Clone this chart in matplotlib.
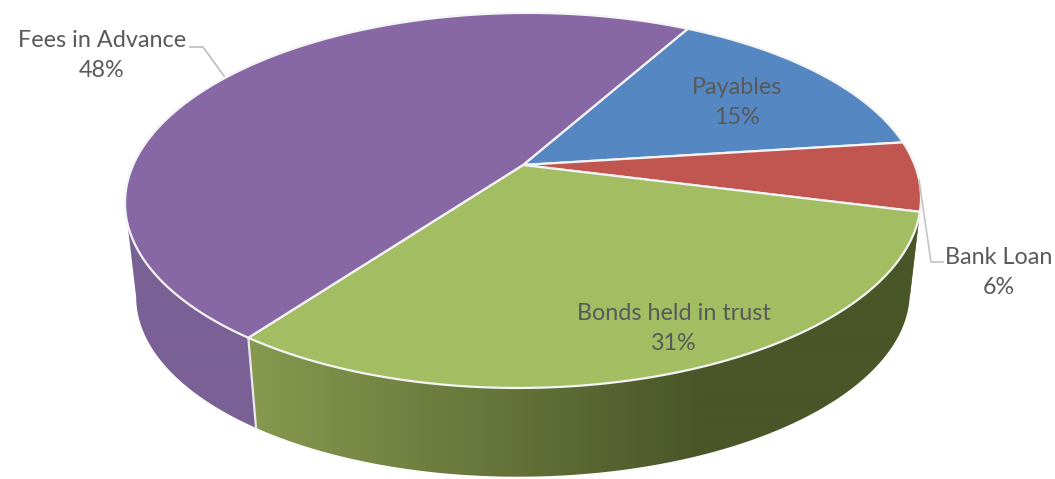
import numpy as np
import matplotlib
matplotlib.use("Agg")
import matplotlib.pyplot as plt
from matplotlib.patches import Polygon

categories = ["Payables", "Bank Loan", "Bonds held in trust", "Fees in Advance"]
shares = [15, 6, 31, 48]
face_colors = ["#5587c2", "#c0564f", "#a2bd62", "#8768a5"]
side_left = ["#3f6594", "#8c3d3a", "#87994f", "#7a6195"]
side_right = ["#3f6594", "#7c3532", "#4a5628", "#6f5888"]
start_deg = 29.4

# Perspective view of the disc
CX, CY = 523.0, 165.0
HALF_W, HALF_H, PERSP = 390.8, 180.8, 0.189
DROP, SHRINK, SKEW = 95.0, 0.972, 0.006
WIDTH, HEIGHT = 1055, 479
# Range of angles where the outer wall faces the viewer
WALL_FROM, WALL_TO = 101.0, 259.0


def project(theta_deg, lower=False):
    t = np.radians(theta_deg)
    px, py = np.sin(t), -np.cos(t)
    w = 1 - PERSP * py
    x, y = HALF_W * px / w, HALF_H * py / w
    y -= SKEW * x
    if lower:
        return CX + SHRINK * x, CY + DROP + SHRINK * y
    return CX + x, CY + y


plt.rcParams["font.family"] = ["Lato", "DejaVu Sans"]
fig = plt.figure(figsize=(WIDTH / 100, HEIGHT / 100), dpi=100)
ax = fig.add_axes([0, 0, 1, 1])
ax.axis("off")

edges = start_deg + np.cumsum([0] + shares) * 3.6
spans = list(zip(edges[:-1], edges[1:]))

# Rim of the disc: a horizontal colour ramp clipped to each slice's outer wall
ramp_pos = np.clip((np.arange(WIDTH) - 250) / 450, 0, 1)[None, :, None]
for (a0, a1), cl, cr in zip(spans, side_left, side_right):
    lo, hi = max(a0, WALL_FROM), min(a1, WALL_TO)
    if lo >= hi:
        continue
    angles = np.linspace(lo, hi, 300)
    wall = [project(a) for a in angles] + [project(a, lower=True) for a in angles[::-1]]
    outline = Polygon(wall, closed=True, fc="none", ec="none", transform=ax.transData)
    ax.add_patch(outline)
    c0 = np.array(matplotlib.colors.to_rgb(cl))[None, None, :]
    c1 = np.array(matplotlib.colors.to_rgb(cr))[None, None, :]
    im = ax.imshow(c0 + (c1 - c0) * ramp_pos, extent=[0, WIDTH, HEIGHT, 0],
                   aspect="auto", interpolation="bilinear", zorder=1)
    im.set_clip_path(outline)

ax.set_xlim(0, WIDTH)
ax.set_ylim(HEIGHT, 0)

# Divider on the rim between the two front slices
for edge in edges[3:4]:
    top, bot = project(edge), project(edge, lower=True)
    ax.plot([top[0], bot[0]], [top[1], bot[1]], color="#e9e6ee", lw=1.6, zorder=2)

# Top face
for (a0, a1), col in zip(spans, face_colors):
    arc = [project(a) for a in np.linspace(a0, a1, 200)]
    ax.add_patch(Polygon([(CX, CY)] + arc, closed=True, fc=col, ec="#f4f4f4",
                         lw=1.6, joinstyle="round", zorder=3))

# Labels
label_pos = [(737, 87), (999, 257), (674, 313), (102, 40)]
for name, share, (lx, ly) in zip(categories, shares, label_pos):
    ax.text(lx, ly, name, ha="center", va="center", fontsize=16.8, color="#595959", zorder=5)
    ax.text(lx, ly + 30, f"{share}%", ha="center", va="center", fontsize=16.8, color="#595959", zorder=5)

# Leader lines
ax.plot([190, 203, 224], [47, 47, 76], color="#bdbdbd", lw=1.2, zorder=4)
ax.plot([919, 931, 943], [180, 262, 262], color="#c4c4c4", lw=1.2, zorder=4)

fig.savefig("out.png", dpi=100)
